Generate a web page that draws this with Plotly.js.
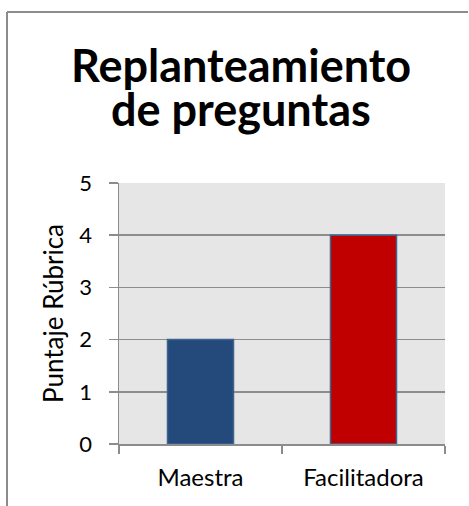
<!DOCTYPE html>
<html>
<head>
<meta charset="utf-8">
<script src="https://cdn.plot.ly/plotly-3.0.1.min.js"></script>
<style>
  html, body { margin: 0; padding: 0; background: #ffffff; }
  #chart { width: 469px; height: 506px; }
</style>
</head>
<body>
<div id="chart"></div>
<script>
const categories = ["Maestra", "Facilitadora"];
const values = [2, 4];
const barColors = ["#234A7B", "#C00000"];
const yTicks = [0, 1, 2, 3, 4, 5];
const titleLines = ["Replanteamiento", "de preguntas"];
const yTitle = "Puntaje Rúbrica";

const trace = {
  type: "bar",
  x: categories,
  y: values,
  marker: { color: barColors, line: { color: "#3F638F", width: 1.5 } },
  hoverinfo: "x+y"
};

const L = 119, R = 24, T = 183, B = 62;
const W = 469, H = 506;
const pw = W - L - R, ph = H - T - B;
function px2x(px) { return (px - L) / pw; }
function py2y(py) { return (H - B - py) / ph; }

const FONT = "Lato, 'Open Sans', sans-serif";

const layout = {
  width: W, height: H,
  margin: { l: L, r: R, t: T, b: B, pad: 0 },
  paper_bgcolor: "#ffffff",
  plot_bgcolor: "#E6E6E6",
  bargap: 0.595,
  showlegend: false,
  font: { family: FONT, color: "#000000" },
  xaxis: {
    type: "category",
    showgrid: false,
    showline: true, linecolor: "#8C8C8C", linewidth: 1.5,
    ticks: "outside", ticklen: 8, tickcolor: "#8C8C8C", tickwidth: 1.5,
    tickson: "boundaries",
    tickfont: { size: 24, color: "#000000" },
    ticklabelstandoff: 12,
    fixedrange: true
  },
  yaxis: {
    range: [0, 5],
    tickvals: yTicks,
    showgrid: true, gridcolor: "#8C8C8C", gridwidth: 1.5,
    zeroline: false,
    showline: true, linecolor: "#8C8C8C", linewidth: 1.5,
    ticks: "outside", ticklen: 9, tickcolor: "#8C8C8C", tickwidth: 1.5,
    tickfont: { size: 22, color: "#000000" },
    ticklabelstandoff: 12,
    title: { text: yTitle, font: { size: 26, color: "#000000" }, standoff: 8 },
    fixedrange: true
  },
  annotations: [
    { text: titleLines[0], xref: "paper", yref: "paper",
      x: px2x(241), y: py2y(65), xanchor: "center", yanchor: "middle",
      showarrow: false, font: { family: FONT, size: 45, weight: 700, color: "#000000" } },
    { text: titleLines[1], xref: "paper", yref: "paper",
      x: px2x(241), y: py2y(109), xanchor: "center", yanchor: "middle",
      showarrow: false, font: { family: FONT, size: 45, weight: 700, color: "#000000" } }
  ],
  shapes: [
    { type: "line", xref: "paper", yref: "paper",
      x0: px2x(7), x1: px2x(468), y0: py2y(12), y1: py2y(12),
      line: { color: "#8C8C8C", width: 2 } },
    { type: "line", xref: "paper", yref: "paper",
      x0: px2x(7), x1: px2x(7), y0: py2y(12), y1: py2y(506),
      line: { color: "#8C8C8C", width: 2 } }
  ]
};

Plotly.newPlot("chart", [trace], layout, { displayModeBar: false, staticPlot: true });
</script>
</body>
</html>
